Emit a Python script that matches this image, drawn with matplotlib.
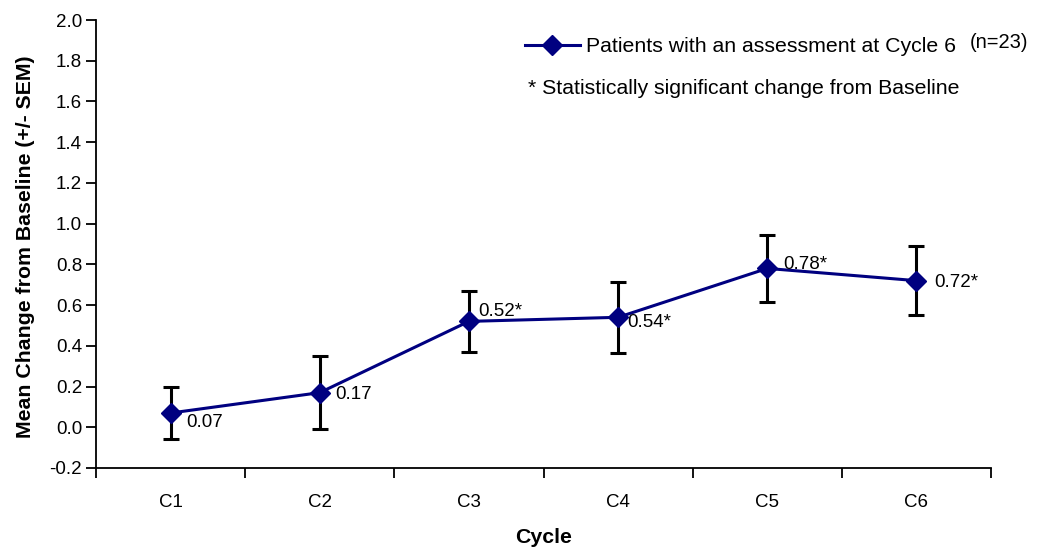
import numpy as np
import matplotlib.pyplot as plt
from matplotlib.lines import Line2D

plt.rcParams['font.family'] = ['Liberation Sans', 'DejaVu Sans']

# Mean change from baseline by cycle
cycles = ['C1', 'C2', 'C3', 'C4', 'C5', 'C6']
mean_change = [0.07, 0.17, 0.52, 0.54, 0.78, 0.72]
sem = [0.13, 0.18, 0.15, 0.175, 0.165, 0.17]
significant = [False, False, True, True, True, True]

# label offsets (points) relative to each marker
label_offsets = [(11.5, -7), (11.5, -1.5), (6.5, 7), (6.5, -3.5), (11.5, 3), (13, -1.5)]

navy = '#000080'
tick_fs = 13.5
title_fs = 15.3

fig = plt.figure(figsize=(10.39, 5.48), dpi=100)
ax = fig.add_axes([0.0924, 0.146, 0.8614, 0.8175])

x = np.arange(len(cycles))
ax.errorbar(x, mean_change, yerr=sem, fmt='none', ecolor='black',
            elinewidth=2.2, capsize=6, capthick=2.2, zorder=2)
ax.plot(x, mean_change, color=navy, lw=2.2, marker='D', markersize=10.5,
        zorder=3)

for xi, val, sig, off in zip(x, mean_change, significant, label_offsets):
    txt = f'{val:.2f}' + ('*' if sig else '')
    ax.annotate(txt, (xi, val), xytext=off, textcoords='offset points',
                ha='left', va='center', fontsize=tick_fs)

ax.set_xlim(-0.5, len(cycles) - 0.5)
ax.set_ylim(-0.2, 2.0)
yticks = np.arange(-0.2, 2.01, 0.2)
ax.set_yticks(yticks)
ax.set_yticklabels([f'{v:.1f}' for v in yticks])
ax.set_xticks(x)
ax.set_xticklabels(cycles)
ax.set_xticks(np.arange(-0.5, len(cycles), 1.0), minor=True)
ax.tick_params(axis='x', which='major', length=0, pad=18.5, labelsize=tick_fs)
ax.tick_params(axis='x', which='minor', length=7, width=1.3)
ax.tick_params(axis='y', length=7, width=1.3, labelsize=tick_fs, pad=3)

for side in ['top', 'right']:
    ax.spines[side].set_visible(False)
for side in ['left', 'bottom']:
    ax.spines[side].set_linewidth(1.3)

ax.set_ylabel('Mean Change from Baseline (+/- SEM)', fontsize=title_fs,
              fontweight='bold')
ax.yaxis.set_label_coords(-0.068, 0.493)
ax.set_xlabel('Cycle', fontsize=title_fs, fontweight='bold')
ax.xaxis.set_label_coords(0.5, -0.134)

handle = Line2D([], [], color=navy, lw=2.2, marker='D', markersize=10.5)
ax.legend([handle], ['Patients with an assessment at Cycle 6'],
          loc='center left', bbox_to_anchor=(0.479, 0.940), frameon=False,
          fontsize=title_fs, handlelength=2.6, handletextpad=0.3,
          borderpad=0, borderaxespad=0)
fig.text(0.9336, 0.923, '(n=23)', fontsize=14.5, ha='left', va='center')
fig.text(0.508, 0.838, '* Statistically significant change from Baseline',
         fontsize=title_fs, ha='left', va='center')

fig.savefig('out.png', dpi=100)
